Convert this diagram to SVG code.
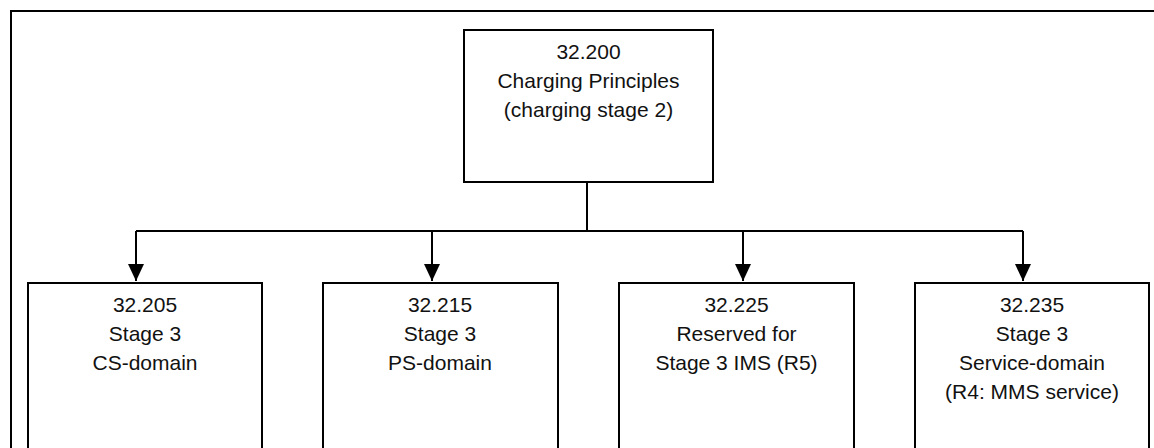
<svg xmlns="http://www.w3.org/2000/svg" width="1154" height="448" viewBox="0 0 1154 448">
  <style>
    .frame { fill: none; stroke: #000; stroke-width: 2; }
    .box { fill: #fff; stroke: #000; stroke-width: 2; }
    .link { fill: none; stroke: #000; stroke-width: 2; }
    .label { font-family: "Liberation Sans", Arial, sans-serif; font-size: 21px; fill: #111; text-anchor: middle; }
  </style>
  <defs>
    <marker id="arrow" markerWidth="17" markerHeight="16" refX="17" refY="8" orient="auto" markerUnits="userSpaceOnUse">
      <path d="M0,0 L17,8 L0,16 Z" fill="#000"/>
    </marker>
  </defs>

  <!-- page frame (top and left edges) -->
  <path class="frame" d="M11,448 L11,11 L1154,11"/>

  <!-- connectors -->
  <g id="connectors">
    <path class="link" d="M587,182 L587,231"/>
    <path class="link" d="M136,231 L1023,231"/>
    <path class="link" d="M136,231 L136,281" marker-end="url(#arrow)"/>
    <path class="link" d="M432,231 L432,281" marker-end="url(#arrow)"/>
    <path class="link" d="M743,231 L743,281" marker-end="url(#arrow)"/>
    <path class="link" d="M1023,231 L1023,281" marker-end="url(#arrow)"/>
  </g>

  <g id="ts32200">
    <rect class="box" x="464" y="30" width="249" height="152"/>
    <text class="label" x="588.5" y="59">32.200</text>
    <text class="label" x="588.5" y="88">Charging Principles</text>
    <text class="label" x="588.5" y="117">(charging stage 2)</text>
  </g>

  <g id="ts32205">
    <rect class="box" x="28" y="283" width="234" height="180"/>
    <text class="label" x="145" y="312">32.205</text>
    <text class="label" x="145" y="341">Stage 3</text>
    <text class="label" x="145" y="370">CS-domain</text>
  </g>

  <g id="ts32215">
    <rect class="box" x="323" y="283" width="235" height="180"/>
    <text class="label" x="440" y="312">32.215</text>
    <text class="label" x="440" y="341">Stage 3</text>
    <text class="label" x="440" y="370">PS-domain</text>
  </g>

  <g id="ts32225">
    <rect class="box" x="619" y="283" width="235" height="180"/>
    <text class="label" x="736.5" y="312">32.225</text>
    <text class="label" x="736.5" y="341">Reserved for</text>
    <text class="label" x="736.5" y="370">Stage 3 IMS (R5)</text>
  </g>

  <g id="ts32235">
    <rect class="box" x="915" y="283" width="234" height="180"/>
    <text class="label" x="1032" y="312">32.235</text>
    <text class="label" x="1032" y="341">Stage 3</text>
    <text class="label" x="1032" y="370">Service-domain</text>
    <text class="label" x="1032" y="399">(R4: MMS service)</text>
  </g>
</svg>
